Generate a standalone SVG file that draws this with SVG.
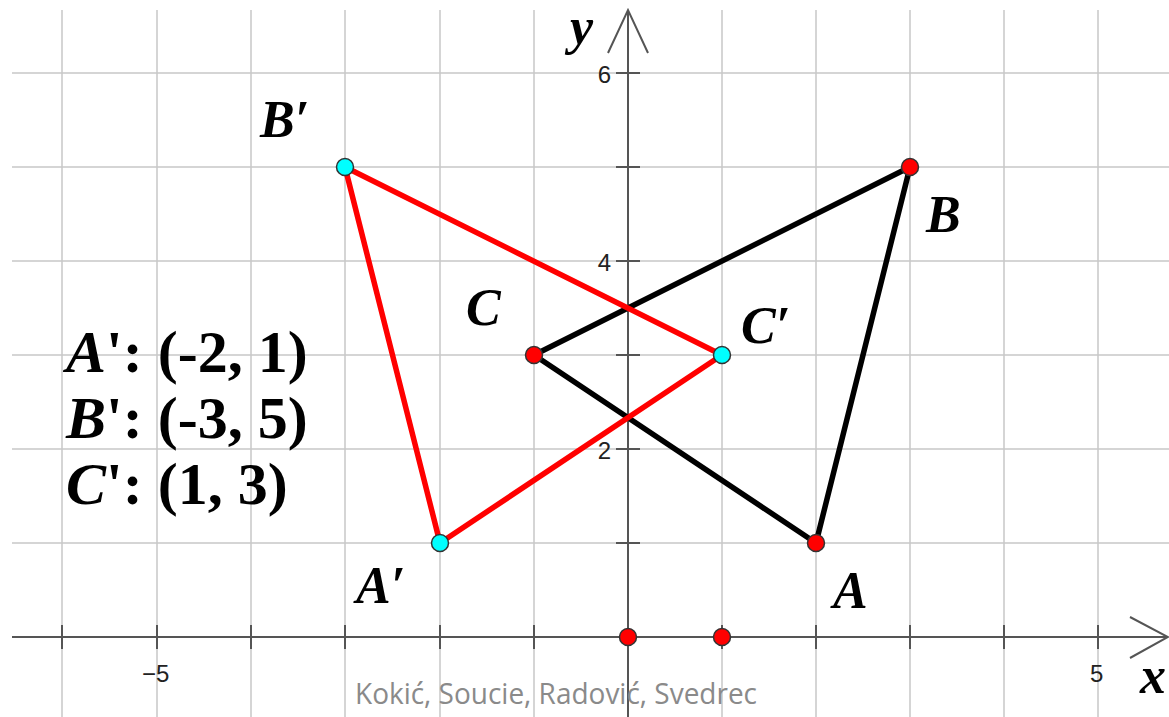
<svg xmlns="http://www.w3.org/2000/svg" width="1169" height="717" viewBox="0 0 1169 717">
<style>
.grid{stroke:#c8c8c8;stroke-width:1.5;fill:none}
.axis{stroke:#555;stroke-width:2;fill:none}
.tick{stroke:#555;stroke-width:2}
.num{font-family:"Liberation Sans",Arial,sans-serif;font-size:24px;fill:#222}
.lbl{font-family:"Liberation Serif","Times New Roman",serif;font-weight:bold;font-style:italic;font-size:52px;fill:#000}
.coord{font-family:"Liberation Serif","Times New Roman",serif;font-weight:bold;font-size:60px;fill:#000}
.blk{stroke:#000;stroke-width:5.5;stroke-linecap:round}
.red{stroke:#ff0000;stroke-width:5.5;stroke-linecap:round}
.pr{fill:#ff0000;stroke:#333;stroke-width:1.5}
.pc{fill:#00ffff;stroke:#333;stroke-width:1.5}
.wm{font-family:"Open Sans","Liberation Sans",sans-serif;font-size:29px;fill:#8a8a8a}
</style>
<rect width="1169" height="717" fill="#fff"/>
<g id="grid">
<path class="grid" d="M62,10V717M157,10V717M251,10V717M345,10V717M440,10V717M534,10V717M722,10V717M816,10V717M910,10V717M1004,10V717M1098,10V717"/>
<path class="grid" d="M12,73H1169M12,167H1169M12,261H1169M12,355H1169M12,449H1169M12,543H1169"/>
</g>
<g id="axes">
<path class="axis" d="M12,637H1168M628,717V10"/>
<path class="axis" d="M1130,617L1168,637L1130,658M608,53L628,10L648,53"/>
<path class="tick" d="M62,625V649M157,625V649M251,625V649M345,625V649M440,625V649M534,625V649M722,625V649M816,625V649M910,625V649M1004,625V649M1098,625V649"/>
<path class="tick" d="M616,73H640M616,167H640M616,261H640M616,355H640M616,449H640M616,543H640"/>
<text class="num" x="142" y="682">−5</text>
<text class="num" x="1090" y="682">5</text>
<text class="num" x="611" y="83" text-anchor="end">6</text>
<text class="num" x="611" y="271" text-anchor="end">4</text>
<text class="num" x="611" y="459" text-anchor="end">2</text>
<text class="lbl" x="570" y="44" font-size="46">y</text>
<text class="lbl" x="1140" y="693" font-size="48">x</text>
</g>
<g id="connectors">
<line class="blk" x1="816" y1="543" x2="910" y2="167"/>
<line class="blk" x1="910" y1="167" x2="534" y2="355"/>
<line class="blk" x1="534" y1="355" x2="816" y2="543"/>
<line class="red" x1="440" y1="543" x2="345" y2="167"/>
<line class="red" x1="345" y1="167" x2="722" y2="355"/>
<line class="red" x1="722" y1="355" x2="440" y2="543"/>
</g>
<g id="A"><circle class="pr" cx="816" cy="543" r="8.5"/><text class="lbl" x="833" y="608">A</text></g>
<g id="B"><circle class="pr" cx="910" cy="167" r="8.5"/><text class="lbl" x="926" y="232">B</text></g>
<g id="C"><circle class="pr" cx="534" cy="355" r="8.5"/><text class="lbl" x="466" y="325">C</text></g>
<g id="A1"><circle class="pc" cx="440" cy="543" r="8.5"/><text class="lbl" x="356" y="603">A′</text></g>
<g id="B1"><circle class="pc" cx="345" cy="167" r="8.5"/><text class="lbl" x="260" y="137">B′</text></g>
<g id="C1"><circle class="pc" cx="722" cy="355" r="8.5"/><text class="lbl" x="741" y="343">C′</text></g>
<g id="O"><circle class="pr" cx="628" cy="637" r="8.5"/></g>
<g id="P"><circle class="pr" cx="722" cy="637" r="8.5"/></g>
<g id="coords">
<text class="coord" x="66" y="372"><tspan font-style="italic">A</tspan>': (-2, 1)</text>
<text class="coord" x="66" y="438"><tspan font-style="italic">B</tspan>': (-3, 5)</text>
<text class="coord" x="66" y="504"><tspan font-style="italic">C</tspan>': (1, 3)</text>
</g>
<text class="wm" x="355" y="704" textLength="402" lengthAdjust="spacingAndGlyphs">Kokić, Soucie, Radović, Svedrec</text>
</svg>
